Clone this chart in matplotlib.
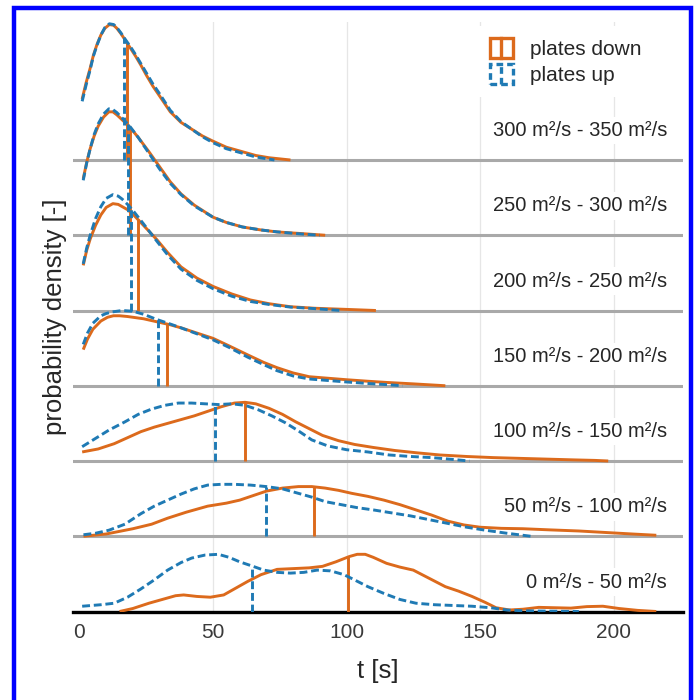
import numpy as np
import matplotlib
matplotlib.use("Agg")
import matplotlib.pyplot as plt
from matplotlib.patches import Rectangle
from matplotlib.lines import Line2D
from matplotlib.legend_handler import HandlerBase

plt.rcParams['font.family'] = ['Liberation Sans', 'DejaVu Sans']

# ---------------- data ----------------
group_labels = ["0 m²/s - 50 m²/s", "50 m²/s - 100 m²/s", "100 m²/s - 150 m²/s",
                "150 m²/s - 200 m²/s", "200 m²/s - 250 m²/s", "250 m²/s - 300 m²/s",
                "300 m²/s - 350 m²/s"]
series_names = ["plates down", "plates up"]
x_ticks = [0, 50, 100, 150, 200]

median_down = [100.5, 88, 62, 32.7, 21.8, 19, 17.7]
median_up = [64.5, 70, 50.6, 29.5, 19.4, 18, 16.5]

# group 0: 0-50
g0_down_t = [15, 20, 26, 32, 36, 39, 44, 49, 54, 58, 63, 68, 74, 80, 86, 91, 96, 101, 104, 107,
             110, 115, 120, 125, 131, 137, 142, 147, 152, 156, 161, 166, 172, 178, 184, 190,
             196, 202, 209, 216]
g0_down_d = [0.0, 0.04, 0.11, 0.17, 0.21, 0.22, 0.2, 0.19, 0.22, 0.3, 0.4, 0.49, 0.56, 0.57,
             0.58, 0.6, 0.66, 0.73, 0.76, 0.76, 0.72, 0.64, 0.59, 0.55, 0.44, 0.33, 0.27, 0.2,
             0.12, 0.05, 0.02, 0.03, 0.055, 0.05, 0.045, 0.065, 0.07, 0.04, 0.015, 0.0]
g0_up_t = [1, 8, 13, 18, 23, 28, 33, 38, 42, 47, 52, 56, 60, 65, 69, 74, 79, 84, 89, 94, 99, 103,
           108, 114, 120, 126, 133, 140, 147, 154, 160, 166, 175, 187]
g0_up_d = [0.07, 0.09, 0.11, 0.19, 0.3, 0.42, 0.55, 0.65, 0.71, 0.75, 0.76, 0.72, 0.66, 0.6, 0.55,
           0.52, 0.51, 0.52, 0.55, 0.54, 0.49, 0.42, 0.33, 0.24, 0.16, 0.11, 0.09, 0.08, 0.07,
           0.05, 0.02, 0.01, 0.005, 0.0]

# group 1: 50-100
g1_down_t = [1.5, 10, 20, 27, 33, 40, 48, 55, 60, 65, 70, 76, 82, 87, 92, 97, 102, 108, 114, 120,
             126, 132, 138, 144, 150, 158, 166, 176, 187, 197, 207, 216]
g1_down_d = [0.0, 0.03, 0.1, 0.16, 0.24, 0.32, 0.4, 0.44, 0.48, 0.54, 0.6, 0.64, 0.66, 0.66, 0.64,
             0.61, 0.57, 0.53, 0.48, 0.42, 0.35, 0.28, 0.2, 0.15, 0.12, 0.105, 0.1, 0.085, 0.07,
             0.05, 0.03, 0.013]
g1_up_t = [1.5, 6, 11, 17, 23, 28, 33, 38, 43, 48, 53, 58, 64, 70, 76, 82, 87, 92, 98, 104, 110,
           117, 124, 131, 138, 145, 152, 160, 169]
g1_up_d = [0.02, 0.04, 0.08, 0.16, 0.3, 0.4, 0.48, 0.56, 0.63, 0.68, 0.69, 0.69, 0.68, 0.66, 0.63,
           0.57, 0.52, 0.46, 0.42, 0.38, 0.35, 0.31, 0.27, 0.22, 0.17, 0.12, 0.08, 0.04, 0.0]

# group 2: 100-150
g2_down_t = [1, 7, 13, 18, 23, 28, 33, 38, 43, 48, 53, 58, 62, 66, 71, 76, 81, 86, 91, 97, 103,
             110, 118, 126, 135, 145, 155, 165, 175, 185, 193, 198]
g2_down_d = [0.12, 0.16, 0.23, 0.31, 0.39, 0.45, 0.5, 0.55, 0.6, 0.66, 0.72, 0.77, 0.78, 0.76, 0.7,
             0.62, 0.52, 0.43, 0.34, 0.27, 0.22, 0.18, 0.14, 0.11, 0.08, 0.06, 0.045, 0.035,
             0.025, 0.015, 0.008, 0.0]
g2_up_t = [1, 6, 11, 17, 22, 27, 32, 37, 42, 47, 52, 57, 62, 67, 72, 77, 82, 87, 93, 100, 108,
           116, 124, 132, 140, 146]
g2_up_d = [0.19, 0.3, 0.41, 0.52, 0.62, 0.69, 0.74, 0.77, 0.77, 0.76, 0.75, 0.76, 0.74, 0.68, 0.6,
           0.51, 0.4, 0.28, 0.2, 0.15, 0.12, 0.08, 0.06, 0.045, 0.02, 0.0]

# group 3: 150-200
g3_down_t = [1.4, 3, 5, 8, 10.5, 12.7, 15, 18, 24, 29, 34, 38, 44, 50, 56, 63, 69, 74, 80, 86,
             93, 100, 108, 115, 125, 137]
g3_down_d = [0.48, 0.62, 0.75, 0.86, 0.91, 0.93, 0.93, 0.92, 0.89, 0.85, 0.81, 0.77, 0.70, 0.63,
             0.53, 0.41, 0.31, 0.24, 0.17, 0.12, 0.10, 0.08, 0.06, 0.044, 0.025, 0.0]
g3_up_t = [1.4, 3, 5, 8, 10, 12, 16, 20, 24, 29, 34, 38, 44, 50, 56, 63, 69, 74, 80, 86, 93, 100,
           108, 115, 121]
g3_up_d = [0.55, 0.7, 0.83, 0.93, 0.96, 0.98, 1.0, 0.99, 0.95, 0.88, 0.82, 0.77, 0.69, 0.61, 0.51,
           0.38, 0.28, 0.2, 0.13, 0.09, 0.07, 0.05, 0.03, 0.015, 0.0]

# group 4: 200-250
g4_down_t = [1.4, 2.7, 4, 6, 8, 10, 12.5, 14.5, 16, 18, 20, 24, 29, 33, 38, 44, 50, 57, 64, 71,
             79, 88, 99, 111]
g4_down_d = [0.6, 0.8, 0.95, 1.13, 1.27, 1.37, 1.42, 1.41, 1.38, 1.34, 1.28, 1.13, 0.94, 0.77,
             0.58, 0.43, 0.32, 0.22, 0.14, 0.09, 0.05, 0.03, 0.016, 0.0]
g4_up_t = [1.4, 2.7, 4, 6, 8, 10, 12.5, 14.5, 16, 18, 20, 24, 29, 33, 38, 44, 50, 57, 64, 71, 79,
           88, 98]
g4_up_d = [0.62, 0.83, 1.0, 1.22, 1.38, 1.49, 1.54, 1.52, 1.48, 1.41, 1.33, 1.15, 0.92, 0.74,
           0.55, 0.40, 0.29, 0.19, 0.12, 0.08, 0.045, 0.025, 0.0]

# group 5: 250-300
g5_down_t = [1.4, 2.7, 4, 5.5, 7, 9, 11, 12.5, 14, 17, 19, 22, 26, 30, 34, 38, 43, 50, 55, 61,
             68, 74, 82, 92]
g5_down_d = [0.75, 0.97, 1.15, 1.32, 1.45, 1.57, 1.64, 1.64, 1.6, 1.5, 1.43, 1.3, 1.11, 0.91,
             0.71, 0.55, 0.40, 0.24, 0.17, 0.11, 0.07, 0.044, 0.025, 0.0]
g5_up_t = [1.4, 2.7, 4, 5.5, 7, 9, 11, 12.5, 14, 17, 19, 22, 26, 30, 34, 38, 43, 50, 55, 61, 68,
           74, 82, 90]
g5_up_d = [0.73, 0.96, 1.15, 1.34, 1.48, 1.61, 1.68, 1.67, 1.63, 1.52, 1.44, 1.3, 1.09, 0.88,
           0.69, 0.54, 0.39, 0.24, 0.17, 0.11, 0.07, 0.045, 0.02, 0.0]

# group 6: 300-350
g6_down_t = [1, 2.5, 4, 5.2, 6.5, 8, 9.5, 11.2, 12.8, 14, 15.5, 17, 19, 21, 23, 25, 27.5, 30, 34,
             38, 42, 46, 50, 55, 61, 66, 71, 79]
g6_down_d = [0.81, 1.03, 1.22, 1.39, 1.53, 1.66, 1.75, 1.80, 1.79, 1.75, 1.68, 1.60, 1.49, 1.38,
             1.26, 1.13, 0.98, 0.85, 0.64, 0.50, 0.41, 0.32, 0.25, 0.17, 0.11, 0.06, 0.03, 0.0]
g6_up_t = [1, 2.5, 4, 5.2, 6.5, 8, 9.5, 11.2, 12.8, 14, 15.5, 17, 19, 21, 23, 25, 27.5, 30, 34,
           38, 42, 46, 50, 55, 61, 66, 73]
g6_up_d = [0.78, 1.0, 1.2, 1.38, 1.52, 1.66, 1.76, 1.81, 1.80, 1.76, 1.69, 1.61, 1.51, 1.4,
           1.28, 1.16, 1.01, 0.88, 0.66, 0.51, 0.41, 0.31, 0.23, 0.15, 0.09, 0.04, 0.0]

down_t = [g0_down_t, g1_down_t, g2_down_t, g3_down_t, g4_down_t, g5_down_t, g6_down_t]
down_d = [g0_down_d, g1_down_d, g2_down_d, g3_down_d, g4_down_d, g5_down_d, g6_down_d]
up_t = [g0_up_t, g1_up_t, g2_up_t, g3_up_t, g4_up_t, g5_up_t, g6_up_t]
up_d = [g0_up_d, g1_up_d, g2_up_d, g3_up_d, g4_up_d, g5_up_d, g6_up_d]

# ---------------- style ----------------
C_DOWN = "#DC6A1C"
C_UP = "#1F7AB4"
LW = 2.1
DASH = (2.7, 1.3)

W, H = 697, 700
fig = plt.figure(figsize=(W / 100, H / 100), dpi=100)
fig.patch.set_facecolor("white")

ax_l, ax_r, ax_t, ax_b = 73, 683, 22, 611.5
ax = fig.add_axes([ax_l / W, 1 - ax_b / H, (ax_r - ax_l) / W, (ax_b - ax_t) / H])
step_px = 75.25
ax.set_xlim(-2.43, 226.0)
ax.set_ylim(0, (ax_b - ax_t) / step_px)

for s in ax.spines.values():
    s.set_visible(False)

for gx in x_ticks[1:]:
    ax.axvline(gx, color="#E6E6E6", lw=0.9, zorder=0)

n = len(group_labels)
for i in range(n):
    if i == 0:
        ax.axhline(i, color="black", lw=2.4, zorder=1.5, clip_on=False)
    else:
        ax.axhline(i, color="#A9A9A9", lw=2.2, zorder=1.5)

for i in range(n):
    td, dd = np.array(down_t[i]), np.array(down_d[i])
    tu, du = np.array(up_t[i]), np.array(up_d[i])
    ax.plot(td, i + dd, color=C_DOWN, lw=LW, zorder=3, solid_joinstyle="round",
            solid_capstyle="butt")
    ax.plot(tu, i + du, color=C_UP, lw=LW, zorder=3.2, dashes=DASH)
    hd = np.interp(median_down[i], td, dd)
    hu = np.interp(median_up[i], tu, du)
    ax.plot([median_down[i], median_down[i]], [i, i + hd], color=C_DOWN, lw=LW, zorder=3,
            solid_capstyle="butt")
    ax.plot([median_up[i], median_up[i]], [i, i + hu], color=C_UP, lw=LW, zorder=3.2,
            dashes=DASH)
    ax.text(220, i + 0.39, group_labels[i], ha="right", va="center", fontsize=14.5,
            color="#262626", zorder=2,
            bbox=dict(facecolor="white", edgecolor="none", pad=3))

ax.set_xticks(x_ticks)
ax.set_yticks([])
ax.tick_params(axis="x", length=0, pad=8, labelsize=15, labelcolor="#3a3a3a")

ax.set_xlabel("t [s]", fontsize=18.5, color="#262626", va="center")
ax.xaxis.set_label_coords(0.5, -(671 - ax_b) / (ax_b - ax_t))
ax.set_ylabel("probability density [-]", fontsize=18.5, color="#262626", va="center")
ax.yaxis.set_label_coords((55 - ax_l) / (ax_r - ax_l), 0.5)


class BoxVlineHandler(HandlerBase):
    def create_artists(self, legend, orig_handle, xdescent, ydescent, width, height,
                       fontsize, trans):
        col = orig_handle.get_color()
        ls = orig_handle.get_linestyle()
        kw = dict(color=col, lw=2.4, transform=trans)
        if ls != "-":
            kw["dashes"] = (2.0, 1.2)
        x0, y0 = -xdescent, -ydescent
        rect = Rectangle((x0, y0), width, height, fill=False, edgecolor=col, lw=2.4,
                         linestyle=ls if ls == "-" else (0, (2.0, 1.2)), transform=trans)
        line = Line2D([x0 + width / 2, x0 + width / 2], [y0, y0 + height], **kw)
        return [rect, line]


h_down = Line2D([], [], color=C_DOWN, linestyle="-")
h_up = Line2D([], [], color=C_UP, linestyle="--")
leg = ax.legend([h_down, h_up], series_names, loc="upper left",
                bbox_to_anchor=(477.5 / W, 1 - 25.5 / H), bbox_transform=fig.transFigure,
                borderaxespad=0, borderpad=0.6, handlelength=1.1, handleheight=1.1,
                handletextpad=0.8, labelspacing=0.22, fontsize=15, frameon=True,
                fancybox=False, handler_map={Line2D: BoxVlineHandler()})
leg.get_frame().set_facecolor("white")
leg.get_frame().set_edgecolor("none")
leg.get_frame().set_alpha(1)
for t in leg.get_texts():
    t.set_color("#262626")
leg.set_zorder(5)

# blue frame around the figure
fig.patches.append(Rectangle((14, -10), 691 - 14, (H - 7.5) + 10, transform=None,
                             fill=False, edgecolor="#0000FF", lw=3.2,
                             figure=fig))

fig.savefig("out.png", dpi=100, facecolor="white")
